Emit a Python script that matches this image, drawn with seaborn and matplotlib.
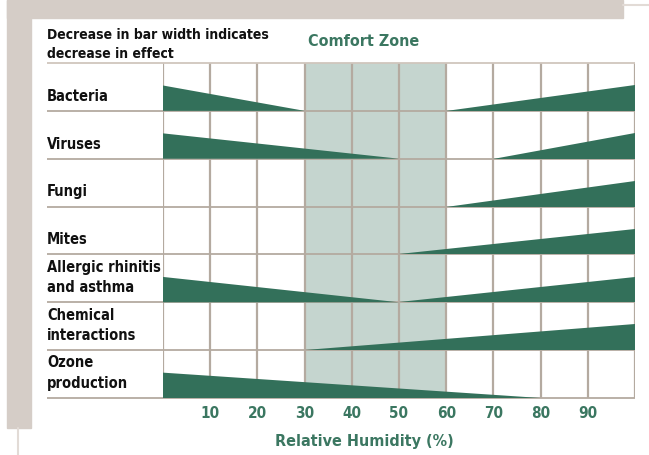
import seaborn as sns
import matplotlib.pyplot as plt
from matplotlib.patches import Rectangle
from matplotlib.lines import Line2D

# Row labels (top to bottom)
rows = ['Bacteria', 'Viruses', 'Fungi', 'Mites',
        'Allergic rhinitis\nand asthma', 'Chemical\ninteractions', 'Ozone\nproduction']

# humidity where the left-side effect dies out (None = no left wedge)
left_end = [30, 50, None, None, 50, None, 80]
# humidity where the right-side effect begins (None = no right wedge)
right_start = [60, 70, 60, 50, 50, 30, None]
# relative effect at 0% and at 100% humidity
left_effect = [1.0, 1.0, 0, 0, 1.0, 0, 1.0]
right_effect = [1.0, 1.0, 1.0, 1.0, 1.0, 1.05, 0]

comfort_zone = (30, 60)
ticks = [10, 20, 30, 40, 50, 60, 70, 80, 90]

dark_green = '#33705a'
text_green = '#3b7761'
comfort_col = '#c5d5cf'
grid_col = '#b4aaa0'
frame_col = '#d5cdc7'

sns.set_style('white')
plt.rcParams['font.family'] = ['DejaVu Sans']
plt.rcParams['font.stretch'] = 'condensed'
plt.rcParams['font.weight'] = 'bold'

fig = plt.figure(figsize=(6.49, 4.55), dpi=100)
W, H = 649, 455

# decorative frame
fig.patches.append(Rectangle((7 / W, 1 - 18 / H), 616 / W, 18 / H, transform=fig.transFigure,
                             color=frame_col, zorder=0))
fig.patches.append(Rectangle((7 / W, 1 - 428 / H), 24 / W, 428 / H, transform=fig.transFigure,
                             color=frame_col, zorder=0))
fig.lines.append(Line2D([18 / W, 18 / W], [0, 1 - 428 / H], transform=fig.transFigure,
                        color='#e2dbd6', lw=1.5))
fig.lines.append(Line2D([623 / W, 1], [1 - 4.5 / H, 1 - 4.5 / H], transform=fig.transFigure,
                        color='#e2dbd6', lw=1.5))

ax = fig.add_axes([163 / W, 1 - 398 / H, 472 / W, 335 / H])
ax.set_xlim(0, 100)
ax.set_ylim(len(rows), 0)
sns.despine(ax=ax, left=True, bottom=True)
ax.set_yticks([])

# comfort zone band
ax.axvspan(*comfort_zone, color=comfort_col, zorder=0, lw=0)

# grid
for x in [0] + ticks + [100]:
    ax.axvline(x, color=grid_col, lw=1.6, zorder=1)

x_left = -116 / 472 * 100
for i in range(len(rows) + 1):
    ax.plot([x_left, 100], [i, i], color=grid_col if i > 0 else '#d0c6bd', lw=1.3,
            zorder=1, clip_on=False, solid_capstyle='butt')

hmax = 0.53
for i, name in enumerate(rows):
    base = i + 1
    if left_end[i] is not None:
        ax.fill([0, left_end[i], 0], [base, base, base - hmax * left_effect[i]],
                color=dark_green, lw=0, zorder=2)
    if right_start[i] is not None:
        ax.fill([right_start[i], 100, 100], [base, base, base - hmax * right_effect[i]],
                color=dark_green, lw=0, zorder=2)
    ax.text(x_left, base - 0.15, name, ha='left', va='bottom', fontsize=10.5,
            color='#111111', linespacing=1.45)

ax.text(x_left, -0.04, 'Decrease in bar width indicates\ndecrease in effect', ha='left',
        va='bottom', fontsize=10, color='#111111', linespacing=1.45)
ax.text(42.6, -0.44, 'Comfort Zone', ha='center', va='center', fontsize=11.5, color=text_green)

ax.set_xticks(ticks)
ax.set_xticklabels([str(t) for t in ticks], fontsize=11, color=text_green)
ax.tick_params(axis='x', length=0, pad=6)
ax.set_xlabel('Relative Humidity (%)', fontsize=11.5, color=text_green, labelpad=9,
              fontweight='bold')
ax.xaxis.label.set_x(42.6 / 100)

fig.savefig('out.png', dpi=100)
